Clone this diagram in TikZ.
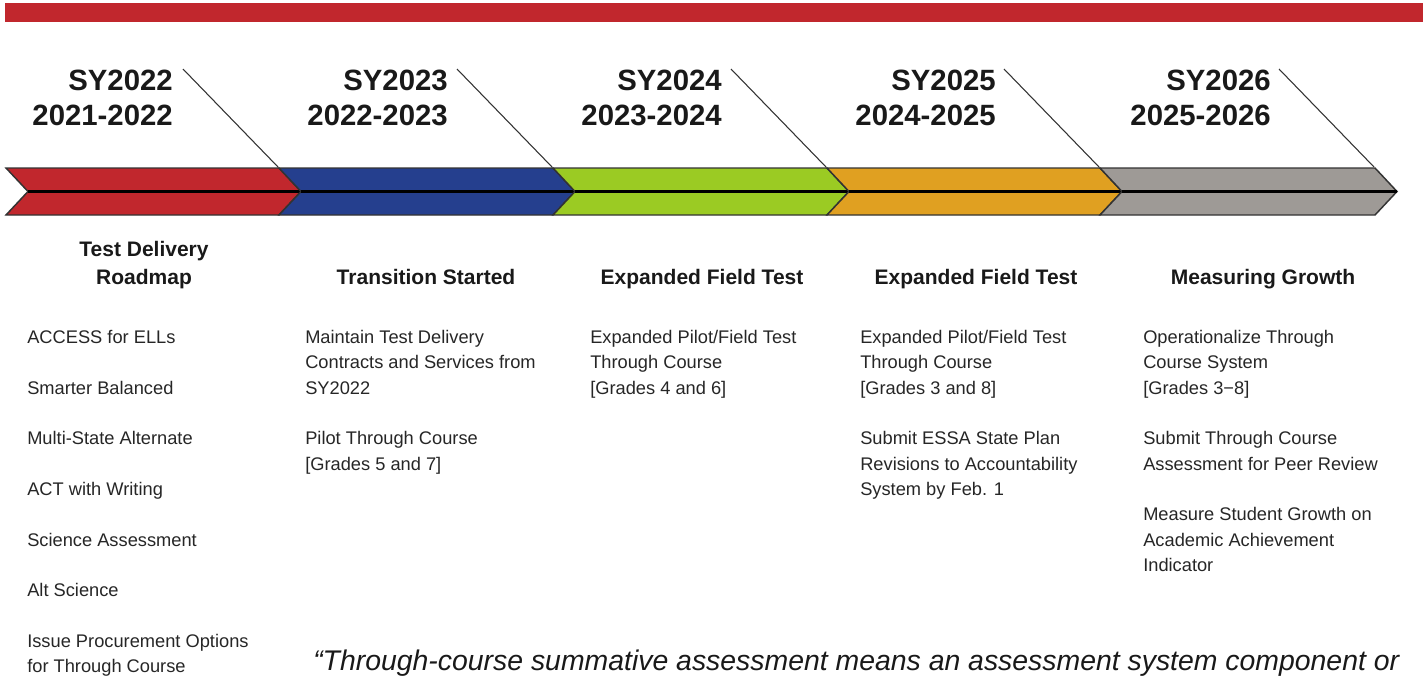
\documentclass[tikz,border=0pt]{standalone}
\usepackage{fontspec}
\setmainfont{Liberation Sans}
\begin{document}
\begin{tikzpicture}[x=0.75pt,y=-0.75pt,
  seg/.style={draw=black!80,line width=1.1pt,line join=miter},
  midline/.style={draw=black,line width=1.6pt},
  slash/.style={draw=black!80,line width=0.8pt},
  yearlbl/.style={anchor=north east,inner sep=0pt,align=right,font=\fontsize{22}{26.25}\selectfont\bfseries,text=black!90},
  titlelbl/.style={inner sep=0pt,align=center,font=\fontsize{15.75}{21}\selectfont\bfseries,text=black!90},
  bodytxt/.style={anchor=north west,inner sep=0pt,align=left,font=\fontsize{13.7}{19}\selectfont,text=black!85},
  quotetxt/.style={anchor=base west,inner sep=0pt,font=\fontsize{21.3}{25}\selectfont\itshape,text=black!90}]
\definecolor{cRed}{HTML}{C1272D}
\definecolor{cBlue}{HTML}{253F8E}
\definecolor{cGreen}{HTML}{9BCB23}
\definecolor{cOrange}{HTML}{E0A021}
\definecolor{cGray}{HTML}{9E9A96}
\useasboundingbox (0,0) rectangle (1425,679);
% top bar
\fill[cRed] (5,3) rectangle (1423,22);
% chevron segments
\foreach \xl/\xr/\c/\n in {6/279/cRed/a,279/553/cBlue/b,553/827/cGreen/c,827/1100/cOrange/d,1100/1375/cGray/e}{
  \draw[seg,fill=\c] (\xl,168) -- (\xr,168) -- (\xr+22,191.5) -- (\xr,215) -- (\xl,215) -- (\xl+22,191.5) -- cycle;
  \coordinate (n\n) at (\xl+22,191.5);
  \coordinate (t\n) at (\xr+22,191.5);
  \draw[midline] (n\n) -- (t\n);
  \coordinate (s\n) at (\xr-96,69);
  \coordinate (e\n) at (\xr-1,167);
  \draw[slash] (s\n) -- (e\n);
}
% year labels
\node[yearlbl] (y1) at (173,70) {SY2022\\2021-2022};
\node[yearlbl] (y2) at (448,70) {SY2023\\2022-2023};
\node[yearlbl] (y3) at (722,70) {SY2024\\2023-2024};
\node[yearlbl] (y4) at (996,70) {SY2025\\2024-2025};
\node[yearlbl] (y5) at (1271,70) {SY2026\\2025-2026};
% titles
\node[titlelbl,anchor=north] (h1) at (144,241) {Test Delivery\\Roadmap};
\node[titlelbl,anchor=base] (h2) at (426,284) {Transition Started};
\node[titlelbl,anchor=base] (h3) at (702,284) {Expanded Field Test};
\node[titlelbl,anchor=base] (h4) at (976,284) {Expanded Field Test};
\node[titlelbl,anchor=base] (h5) at (1263,284) {Measuring Growth};
% body
\node[bodytxt] (b1) at (27,330) {ACCESS for ELLs\\[19pt]Smarter Balanced\\[19pt]Multi-State Alternate\\[19pt]ACT with Writing\\[19pt]Science Assessment\\[19pt]Alt Science\\[19pt]Issue Procurement Options\\for Through Course};
\node[bodytxt] (b2) at (305,330) {Maintain Test Delivery\\Contracts and Services from\\SY2022\\[19pt]Pilot Through Course\\{[Grades 5 and 7]}};
\node[bodytxt] (b3) at (590,330) {Expanded Pilot/Field Test\\Through Course\\{[Grades 4 and 6]}};
\node[bodytxt] (b4) at (860,330) {Expanded Pilot/Field Test\\Through Course\\{[Grades 3 and 8]}\\[19pt]Submit ESSA State Plan\\Revisions to Accountability\\System by Feb. 1};
\node[bodytxt] (b5) at (1143,330) {Operationalize Through\\Course System\\{[Grades 3−8]}\\[19pt]Submit Through Course\\Assessment for Peer Review\\[19pt]Measure Student Growth on\\Academic Achievement\\Indicator};
% quote
\node[quotetxt] (q) at (313,670) {\textquotedblleft Through-course summative assessment means an assessment system component or};
\end{tikzpicture}
\end{document}
